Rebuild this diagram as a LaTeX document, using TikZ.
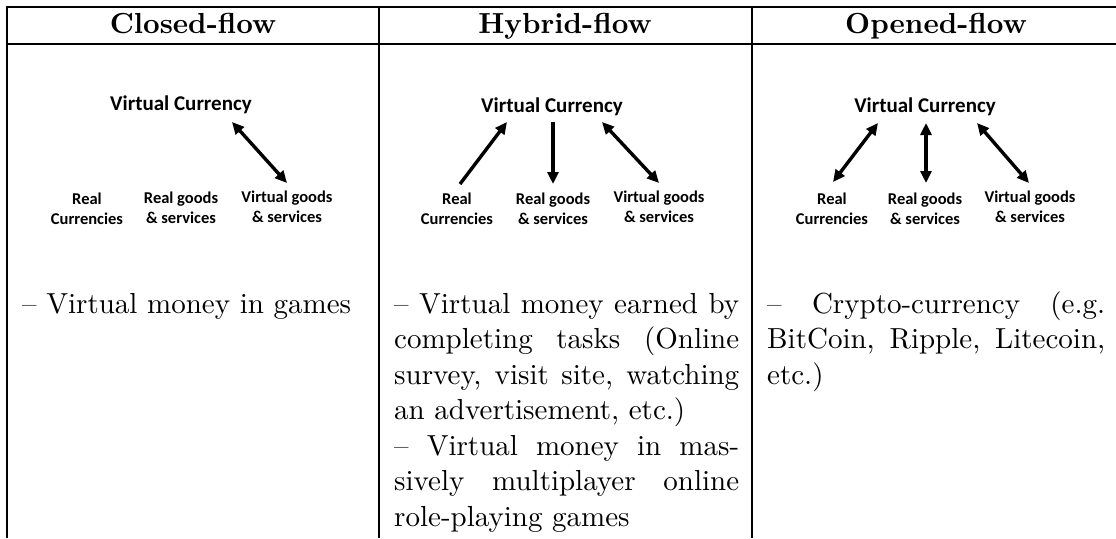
\documentclass[tikz,border=0pt]{standalone}
\usepackage{fontspec}
% text face at its 10pt design size, scaled up
\setmainfont{lmroman10-regular.otf}[BoldFont=lmroman10-bold.otf, Ligatures=TeX]
\newfontfamily\calib{Carlito}
\usetikzlibrary{arrows.meta}
% one justified line of the given width
\newcommand\jline[2]{\makebox[#1][s]{#2}}
\begin{document}
\begin{tikzpicture}[x=1pt,y=-1pt,
  hrule/.style={line width=1.5pt},
  vrule/.style={line width=1.3pt},
  head/.style={font=\fontsize{29}{35}\selectfont\bfseries, inner sep=0pt, anchor=base},
  vc/.style={font=\calib\bfseries\fontsize{21}{24}\selectfont, inner sep=0pt},
  lbl/.style={font=\calib\bfseries\fontsize{16.5}{20}\selectfont, align=center, inner sep=0pt},
  tip/.tip={Triangle[length=12pt,width=11pt]},
  flow/.style={line width=3.4pt, -tip},
  both/.style={line width=3.4pt, tip-tip},
  body/.style={font=\fontsize{29}{35.5}\selectfont, anchor=north west, inner sep=0pt, align=left},
]
\useasboundingbox (0,0) rectangle (1116,538);

% table rules
\draw[hrule] (6.35,7) -- (1116,7);
\draw[hrule] (6.35,44) -- (1116,44);
\draw[vrule] (7,7) -- (7,538);
\draw[vrule] (379,7) -- (379,538);
\draw[vrule] (752,7) -- (752,538);

% column headings
\node[head] (h1) at (193,33) {Closed-flow};
\node[head] (h2) at (565,33) {Hybrid-flow};
\node[head] (h3) at (936,33) {Opened-flow};

% closed-flow diagram
\node[vc] (c-vc) at (181,105) {Virtual Currency};
\node[lbl] (c-rc) at (87,209) {Real\\Currencies};
\node[lbl] (c-rg) at (181,208) {Real goods\\\& services};
\node[lbl] (c-vg) at (287,207) {Virtual goods\\\& services};
\coordinate (c-a) at (232,122);
\coordinate (c-b) at (287,183);
\draw[both] (c-a) -- (c-b);

% hybrid-flow diagram
\node[vc] (h-vc) at (552,107) {Virtual Currency};
\node[lbl] (h-rc) at (457,209) {Real\\Currencies};
\node[lbl] (h-rg) at (553,209) {Real goods\\\& services};
\node[lbl] (h-vg) at (659,207) {Virtual goods\\\& services};
\coordinate (h-a1) at (460,184);
\coordinate (h-b1) at (507,122);
\coordinate (h-a2) at (553,122);
\coordinate (h-b2) at (553,184);
\coordinate (h-a3) at (602,122);
\coordinate (h-b3) at (659,183);
\draw[flow] (h-a1) -- (h-b1);
\draw[flow] (h-a2) -- (h-b2);
\draw[both] (h-a3) -- (h-b3);

% opened-flow diagram
\node[vc] (o-vc) at (925,107) {Virtual Currency};
\node[lbl] (o-rc) at (832,209) {Real\\Currencies};
\node[lbl] (o-rg) at (925,209) {Real goods\\\& services};
\node[lbl] (o-vg) at (1030,207) {Virtual goods\\\& services};
\coordinate (o-a1) at (833,182);
\coordinate (o-b1) at (878,123);
\coordinate (o-a2) at (926,123);
\coordinate (o-b2) at (926,183);
\coordinate (o-a3) at (977,123);
\coordinate (o-b3) at (1029,183);
\draw[both] (o-a1) -- (o-b1);
\draw[both] (o-a2) -- (o-b2);
\draw[both] (o-a3) -- (o-b3);

% examples (first baseline 22pt below the top edge)
\node[body] (c-txt) at (22,291) {\rule{0pt}{22pt}– Virtual money in games};
\node[body] (h-txt) at (394,291) {%
  \rule{0pt}{22pt}\jline{345pt}{– Virtual money earned by}\\
  \jline{345pt}{completing tasks (Online}\\
  \jline{345pt}{survey, visit site, watching}\\
  an advertisement, etc.)\\
  \jline{345pt}{– Virtual money in mas-}\\
  \jline{345pt}{sively multiplayer online}\\
  role-playing games};
\node[body] (o-txt) at (767,291) {%
  \rule{0pt}{22pt}\jline{338pt}{– Crypto-currency (e.g.}\\
  \jline{338pt}{BitCoin, Ripple, Litecoin,}\\
  etc.)};
\end{tikzpicture}
\end{document}
